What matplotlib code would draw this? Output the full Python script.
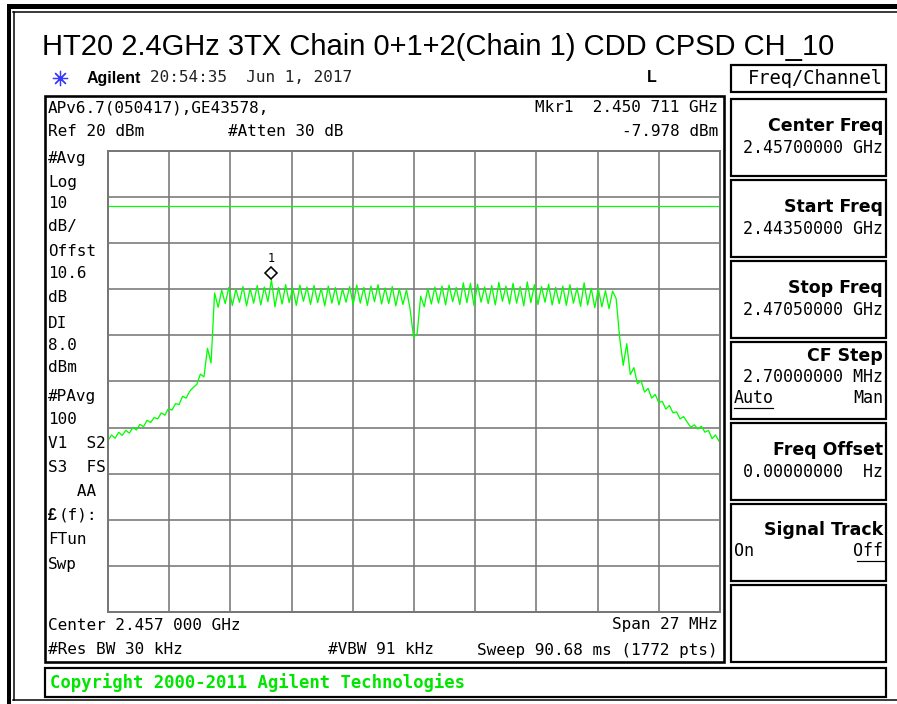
import numpy as np
import matplotlib
matplotlib.use("Agg")
from matplotlib import pyplot as plt
from matplotlib.patches import Rectangle
from matplotlib.transforms import offset_copy

title = "HT20 2.4GHz 3TX Chain 0+1+2(Chain 1) CDD CPSD CH_10"

start_ghz = 2.4435
stop_ghz = 2.4705
ref_dbm = 20
db_per_div = 10
display_line = 8.0
mkr_ghz = 2.450711
mkr_dbm = -7.978

# trace levels (dBm), one value per sweep sample
skirt_left = [-42.8, -41.6, -42.3, -41.0, -41.7, -40.6, -41.2, -40.0, -40.5, -39.3,
              -39.8, -38.4, -38.9, -37.8, -38.1, -36.8, -37.3, -35.9, -36.2, -34.8,
              -35.0, -33.2, -33.6, -32.1, -31.3, -30.6, -28.4, -29.0, -22.8, -26.0]
plateau = [-10.8, -13.9, -10.2, -13.1, -9.6, -13.5, -10.0, -12.8, -9.4, -13.6,
           -9.8, -13.0, -9.2, -13.4, -9.5, -12.7, mkr_dbm, -13.8, -9.6, -13.2,
           -9.0, -12.9, -9.7, -13.5, -9.1, -12.6, -9.5, -13.3, -9.2, -12.9,
           -9.8, -13.6, -9.3, -13.0, -9.6, -13.4, -9.9, -12.8, -9.4, -13.3,
           -9.1, -13.0, -9.6, -13.5, -9.3, -12.7, -9.0, -13.2, -9.7, -13.1,
           -9.4, -13.6, -9.9, -13.3, -10.1, -14.2, -20.4, -19.6, -11.5, -13.8,
           -9.8, -13.2, -9.5, -13.0, -9.3, -13.4, -9.1, -12.7, -9.6, -13.3,
           -8.6, -12.9, -8.7, -13.5, -8.9, -12.8, -9.5, -13.1, -9.2, -13.4,
           -8.5, -12.6, -9.3, -13.2, -8.7, -13.0, -9.4, -13.6, -8.4, -12.9,
           -9.0, -13.3, -9.4, -12.8, -8.9, -13.4, -9.6, -13.1, -9.3, -13.5,
           -9.0, -13.0, -9.7, -13.7, -8.6, -13.4, -9.8, -14.0, -9.9, -13.8,
           -10.3, -14.2, -10.4, -12.0]
skirt_right = [-20.5, -26.5, -21.8, -28.5, -27.0, -30.5, -29.8, -32.3, -31.5, -33.6,
               -32.8, -34.6, -34.3, -36.0, -35.2, -36.8, -36.6, -38.1, -37.6, -38.8,
               -39.9, -39.4, -40.3, -39.7, -41.0, -40.6, -42.4, -41.6, -43.0, -42.0]
level = np.array(skirt_left + plateau + skirt_right)

# sweep spacing chosen so sample 46 sits on the marker frequency
step_ghz = (mkr_ghz - start_ghz) / 46
freq = start_ghz + np.arange(len(level)) * step_ghz

left_labels = ["#Avg", "Log", "10", "dB/", "Offst", "10.6", "dB", "DI", "8.0", "dBm",
               "#PAvg", "100", "V1  S2", "S3  FS", "   AA", "(f):", "FTun", "Swp"]
softkeys = [("Center Freq", "2.45700000 GHz"),
            ("Start Freq", "2.44350000 GHz"),
            ("Stop Freq", "2.47050000 GHz"),
            ("CF Step", "2.70000000 MHz"),
            ("Freq Offset", "0.00000000  Hz"),
            ("Signal Track", ""),
            ("", "")]

W, H = 897, 704
fig = plt.figure(figsize=(W / 100, H / 100), dpi=100)
bg = fig.add_axes([0, 0, 1, 1])
bg.set_xlim(0, W)
bg.set_ylim(H, 0)
bg.axis("off")

mono = "DejaVu Sans Mono"
sans = "Liberation Sans"
px = 0.72  # points per pixel at 100 dpi


def box(x0, y0, x1, y1, lw=2.2):
    bg.add_patch(Rectangle((x0, y0), x1 - x0, y1 - y0, fill=False,
                           ec="black", lw=lw * px))


def mtext(x, y, s, ha="left", size=11.5, **kw):
    kw.setdefault("family", mono)
    bg.text(x, y, s, ha=ha, va="center", fontsize=size, **kw)


# outer frame
bg.add_patch(Rectangle((7, 4), W - 7, 5, color="black", lw=0))
bg.add_patch(Rectangle((7, 4), 4, H - 4, color="black", lw=0))
bg.plot([13, W], [11.5, 11.5], color="black", lw=1.5 * px)
bg.plot([13.5, 13.5], [11.5, 700], color="black", lw=1.5 * px)
bg.plot([13, W], [700, 700], color="black", lw=1.5 * px)

bg.text(42, 47, title, family=sans, fontsize=21, va="center", ha="left")

# instrument header row
bg.plot(60, 78, marker=(8, 2, 0), ms=11, color="#3a3aff", mew=0.9)
bg.text(87, 78, "Agilent", family=sans, weight="bold", fontsize=11.5, va="center")
mtext(150, 78, "20:54:35  Jun 1, 2017", size=11.5, color="#222222")
bg.text(652, 78, "L", family=sans, weight="bold", fontsize=11.5, va="center", ha="center")
box(731, 65, 886, 92, lw=2.2)
mtext(883, 78.5, "Freq/Channel", ha="right", size=13.5)

# main display frame
box(45, 96, 724, 662, lw=2.6)
mtext(48, 108, "APv6.7(050417),GE43578,")
mkr_s = f"{mkr_ghz:.6f}"
mtext(718, 108, f"Mkr1  {mkr_s[:5]} {mkr_s[5:]} GHz", ha="right")
mtext(48, 131, f"Ref {ref_dbm} dBm")
mtext(228, 131, "#Atten 30 dB")
mtext(718, 131, f"{mkr_dbm:.3f} dBm", ha="right")

left_y = [158, 182, 204, 227, 251, 274, 297, 323, 345, 368,
          397, 419, 443, 467, 491, 515, 540, 564]
for s, y in zip(left_labels, left_y):
    if s == "(f):":
        bg.text(48, y, "\u00a3", family=sans, weight="bold", fontsize=11.5, va="center")
        mtext(59, y, s)
    else:
        mtext(48, y, s)

mtext(48, 625, "Center 2.457 000 GHz")
mtext(718, 625, "Span 27 MHz", ha="right")
mtext(48, 650, "#Res BW 30 kHz")
mtext(328, 650, "#VBW 91 kHz")
mtext(718, 650, "Sweep 90.68 ms (1772 pts)", ha="right")

# softkey panel
for k, (name, val) in enumerate(softkeys):
    top = 99 + 81 * k
    box(731, top, 886, top + 77)
    if name == "CF Step":
        bg.text(883, top + 14, name, family="DejaVu Sans", weight="bold",
                fontsize=12.5, ha="right", va="center")
        mtext(883, top + 35, val, ha="right", size=12)
        mtext(734, top + 56, "Auto", size=12)
        bg.plot([734, 773], [top + 66, top + 66], color="black", lw=1.2 * px)
        mtext(883, top + 56, "Man", ha="right", size=12)
    elif name == "Signal Track":
        bg.text(883, top + 26, name, family="DejaVu Sans", weight="bold",
                fontsize=12.5, ha="right", va="center")
        mtext(734, top + 47, "On", size=12)
        mtext(883, top + 47, "Off", ha="right", size=12)
        bg.plot([857, 884], [top + 57, top + 57], color="black", lw=1.2 * px)
    elif name:
        bg.text(883, top + 27, name, family="DejaVu Sans", weight="bold",
                fontsize=12.5, ha="right", va="center")
        mtext(883, top + 49, val, ha="right", size=12)

box(45, 668, 886, 697)
bg.text(50, 683, "Copyright 2000-2011 Agilent Technologies", family=mono,
        weight="bold", fontsize=12.4, color="#00e600", va="center")

# spectrum graticule
gx0, gx1, gy0, gy1 = 108, 720, 151, 612
ax = fig.add_axes([gx0 / W, 1 - gy1 / H, (gx1 - gx0) / W, (gy1 - gy0) / H])
ax.set_xlim(start_ghz, stop_ghz)
ax.set_ylim(ref_dbm - 10 * db_per_div, ref_dbm)
ax.set_xticks(np.linspace(start_ghz, stop_ghz, 11))
ax.set_yticks(np.arange(ref_dbm - 10 * db_per_div, ref_dbm + 1, db_per_div))
ax.tick_params(length=0, labelbottom=False, labelleft=False)
ax.grid(True, color="#777777", lw=1.6 * px)
for sp in ax.spines.values():
    sp.set_color("#777777")
    sp.set_linewidth(2 * px)
ax.set_facecolor("white")

ax.axhline(display_line, color="#00ff00", lw=1.2 * px)
ax.plot(freq, level, color="#00ff00", lw=1.3 * px)

up = offset_copy(ax.transData, fig=fig, y=6.5, units="dots")
ax.plot(mkr_ghz, mkr_dbm, marker="D", ms=6.5, mfc="white", mec="black",
        mew=1.6 * px, transform=up, clip_on=False)
lbl = offset_copy(ax.transData, fig=fig, y=21, units="dots")
ax.text(mkr_ghz, mkr_dbm, "1", family=mono, fontsize=8.5, ha="center",
        va="center", transform=lbl)

fig.savefig("out.png", dpi=100)
